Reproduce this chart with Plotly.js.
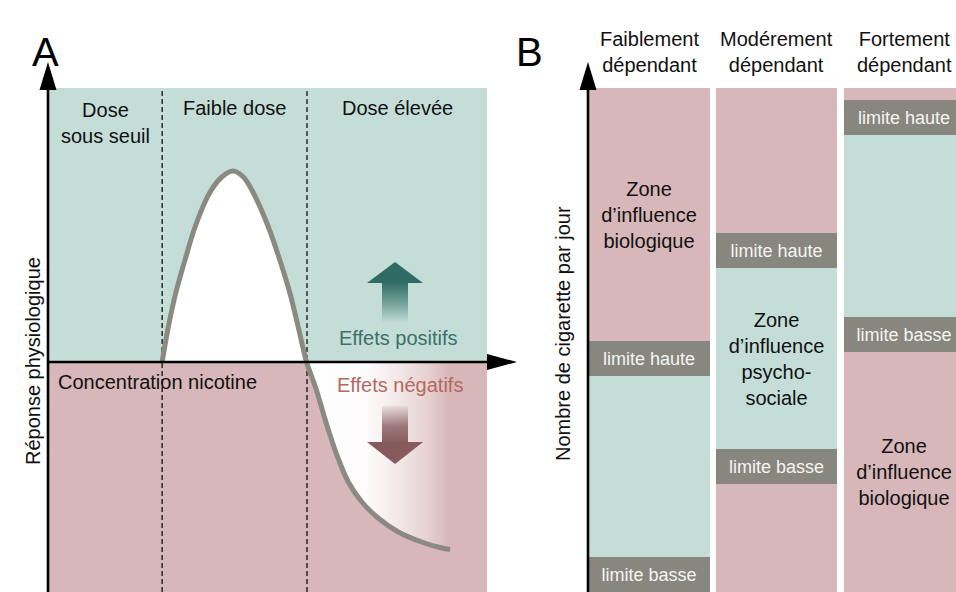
<!DOCTYPE html>
<html>
<head>
<meta charset="utf-8">
<script src="https://cdn.plot.ly/plotly-3.0.1.min.js"></script>
<style>html,body{margin:0;padding:0;background:#fff;}#chart{width:956px;height:592px;}</style>
</head>
<body>
<div id="chart"></div>
<script>
// ---------- DATA ----------
// Panel A : dose-response curve (x = nicotine concentration, y = physiological response)
const curveX = [2.60, 2.74, 2.91, 3.12, 3.35, 3.68, 3.96, 4.21, 4.45, 4.68, 5.02, 5.28, 5.51, 5.70, 5.89, 6.10, 6.33, 6.58, 6.84, 7.15, 7.52, 7.98, 8.51, 8.97, 9.16];
const curveY = [0.00, 0.35, 0.69, 1.02, 1.35, 1.69, 1.85, 1.91, 1.85, 1.69, 1.35, 1.02, 0.69, 0.35, 0.00, -0.26, -0.60, -0.93, -1.20, -1.40, -1.56, -1.70, -1.80, -1.86, -1.875];
const zoneBounds = [2.6, 5.9];
const zoneLabels = ['Dose<br>sous seuil', 'Faible dose', 'Dose élevée'];

// Panel B : stacked zones per dependence group (cigarettes / day, arbitrary units)
const groups = ['Faiblement<br>dépendant', 'Modérement<br>dépendant', 'Fortement<br>dépendant'];
const lowerBio = [0, 108, 240];
const lowLimit = [35, 35, 35];
const psychoZone = [181, 181, 182];
const highLimit = [35, 35, 35];
const upperBio = [253, 145, 12];
const lowerBioText = ['', '', 'Zone<br>d’influence<br>biologique'];
const psychoText = ['', 'Zone<br>d’influence<br>psycho-<br>sociale', ''];
const upperBioText = ['Zone<br>d’influence<br>biologique', '', ''];

// ---------- STYLE ----------
const FONT = '"Liberation Sans", Arial, Helvetica, sans-serif';
const FS = 20;
const TEAL = '#c4ded7', PINK = '#d7b7b9', GRAY = '#878780', CURVE = '#8a8a83';
const A_RANGE = [0, 10];                 // x extent of panel A background
const A_Y = [-2.30, 2.74];               // y extent of panel A background

// geometry of panel A (pixel based)
const pxA = px => (px - 48) / 43.9;
const pyA = py => (362 - py) / 100;
// geometry of panel B
const pxB = px => (px - 649) / 127.5;
const pyB = py => 592 - py;

const xs = [0, 1, 2];
const iCross = curveY.findIndex((v, i) => i > 0 && v <= 0);
const humpX = curveX.slice(0, iCross + 1), humpY = curveY.slice(0, iCross + 1);
const tailX = curveX.slice(iCross), tailY = curveY.slice(iCross);

const ac = pxA(395);
const headHW = 28 / 43.9, shaftHW = 13 / 43.9;

const traces = [
  {x: humpX, y: humpY, type: 'scatter', mode: 'none', fill: 'tozeroy', fillcolor: '#ffffff',
   line: {shape: 'spline', smoothing: 0.9}, hoverinfo: 'skip', xaxis: 'x', yaxis: 'y'},
  {x: tailX, y: tailY, type: 'scatter', mode: 'none', fill: 'tozeroy',
   fillgradient: {type: 'horizontal', start: tailX[0], stop: tailX[tailX.length - 1],
     colorscale: [[0, '#ffffff'], [0.42, '#fdfbfb'], [0.65, '#f2e7e7'], [0.85, '#e7d0d0'], [1, PINK]]},
   line: {shape: 'spline', smoothing: 0.9}, hoverinfo: 'skip', xaxis: 'x', yaxis: 'y'},
  {x: curveX, y: curveY, type: 'scatter', mode: 'lines', line: {color: CURVE, width: 5, shape: 'spline', smoothing: 0.9},
   hoverinfo: 'skip', xaxis: 'x', yaxis: 'y'},
  // up arrow
  {x: [ac - shaftHW, ac + shaftHW, ac + shaftHW, ac - shaftHW], y: [pyA(323), pyA(323), pyA(282), pyA(282)],
   type: 'scatter', mode: 'none', fill: 'toself',
   fillgradient: {type: 'vertical', start: pyA(323), stop: pyA(282),
     colorscale: [[0, 'rgba(47,107,98,0)'], [0.5, 'rgba(47,107,98,0.55)'], [1, 'rgba(47,107,98,1)']]},
   hoverinfo: 'skip', xaxis: 'x', yaxis: 'y'},
  {x: [ac - headHW, ac, ac + headHW], y: [pyA(283), pyA(262), pyA(283)], type: 'scatter', mode: 'none',
   fill: 'toself', fillcolor: '#2f6b62', hoverinfo: 'skip', xaxis: 'x', yaxis: 'y'},
  // down arrow
  {x: [ac - shaftHW, ac + shaftHW, ac + shaftHW, ac - shaftHW], y: [pyA(443), pyA(443), pyA(406), pyA(406)],
   type: 'scatter', mode: 'none', fill: 'toself',
   fillgradient: {type: 'vertical', start: pyA(443), stop: pyA(406),
     colorscale: [[0, 'rgba(135,91,94,1)'], [0.45, 'rgba(135,91,94,0.8)'], [1, 'rgba(135,91,94,0.1)']]},
   hoverinfo: 'skip', xaxis: 'x', yaxis: 'y'},
  {x: [ac - headHW, ac, ac + headHW], y: [pyA(442), pyA(464), pyA(442)], type: 'scatter', mode: 'none',
   fill: 'toself', fillcolor: '#875b5e', hoverinfo: 'skip', xaxis: 'x', yaxis: 'y'}
];

function barTrace(y, color, text, tcolor, tsize) {
  return {type: 'bar', x: xs, y: y, marker: {color: color, line: {width: 0}}, text: text,
    textposition: 'inside', insidetextanchor: 'middle', textangle: 0, constraintext: 'none',
    insidetextfont: {family: FONT, size: tsize, color: tcolor}, hoverinfo: 'skip',
    xaxis: 'x2', yaxis: 'y2', showlegend: false};
}
traces.push(barTrace(lowerBio, PINK, lowerBioText, '#111', FS));
traces.push(barTrace(lowLimit, GRAY, ['limite basse', 'limite basse', 'limite basse'], '#f5f5f2', 18));
traces.push(barTrace(psychoZone, TEAL, psychoText, '#111', FS));
traces.push(barTrace(highLimit, GRAY, ['limite haute', 'limite haute', 'limite haute'], '#f5f5f2', 18));
traces.push(barTrace(upperBio, PINK, upperBioText, '#111', FS));

const shapes = [
  {type: 'rect', xref: 'x', yref: 'y', x0: A_RANGE[0], x1: A_RANGE[1], y0: 0, y1: A_Y[1], fillcolor: TEAL, line: {width: 0}, layer: 'below'},
  {type: 'rect', xref: 'x', yref: 'y', x0: A_RANGE[0], x1: A_RANGE[1], y0: A_Y[0], y1: 0, fillcolor: PINK, line: {width: 0}, layer: 'below'},
];
zoneBounds.forEach(b => shapes.push({type: 'line', xref: 'x', yref: 'y', x0: b, x1: b, y0: A_Y[0], y1: A_Y[1],
  line: {color: '#111', width: 1.3, dash: '5px,3px'}, layer: 'below'}));
// axes of panel A
shapes.push({type: 'line', xref: 'x', yref: 'y', x0: 0, x1: 0, y0: A_Y[0], y1: pyA(88), line: {color: '#000', width: 2.6}});
shapes.push({type: 'path', xref: 'x', yref: 'y', path: `M ${-8.5/43.9},${pyA(90)} L 0,${pyA(62)} L ${8.5/43.9},${pyA(90)} Z`, fillcolor: '#000', line: {width: 0}});
shapes.push({type: 'line', xref: 'x', yref: 'y', x0: 0, x1: pxA(489), y0: 0, y1: 0, line: {color: '#000', width: 2.6}});
shapes.push({type: 'path', xref: 'x', yref: 'y', path: `M ${pxA(487)},${8/100} L ${pxA(517)},0 L ${pxA(487)},${-8/100} Z`, fillcolor: '#000', line: {width: 0}});
// axis of panel B
shapes.push({type: 'line', xref: 'x2', yref: 'y2', x0: pxB(588), x1: pxB(588), y0: 0, y1: pyB(88), line: {color: '#000', width: 2.6}});
shapes.push({type: 'path', xref: 'x2', yref: 'y2', path: `M ${pxB(579.5)},${pyB(90)} L ${pxB(588)},${pyB(62)} L ${pxB(596.5)},${pyB(90)} Z`, fillcolor: '#000', line: {width: 0}});

const zoneCenters = [(A_RANGE[0] + zoneBounds[0]) / 2, (zoneBounds[0] + zoneBounds[1]) / 2, (zoneBounds[1] + A_RANGE[1]) / 2];
const txt = (extra) => Object.assign({showarrow: false, font: {family: FONT, size: FS, color: '#111'}}, extra);
const annotations = [
  txt({xref: 'x', yref: 'y', x: zoneCenters[0], y: pyA(123), text: zoneLabels[0]}),
  txt({xref: 'x', yref: 'y', x: zoneCenters[1], y: pyA(108), text: zoneLabels[1]}),
  txt({xref: 'x', yref: 'y', x: zoneCenters[2], y: pyA(108), text: zoneLabels[2]}),
  txt({xref: 'x', yref: 'y', x: pxA(56), y: pyA(382), xanchor: 'left', text: 'Concentration nicotine'}),
  txt({xref: 'x', yref: 'y', x: pxA(398), y: pyA(338), text: 'Effets positifs', font: {family: FONT, size: FS, color: '#3a7168'}}),
  txt({xref: 'x', yref: 'y', x: pxA(400), y: pyA(385), text: 'Effets négatifs', font: {family: FONT, size: FS, color: '#b5685f'}}),
  txt({xref: 'paper', yref: 'paper', x: 20 / 956, y: 1 - 361 / 592, text: 'Réponse physiologique', textangle: -90}),
  txt({xref: 'paper', yref: 'paper', x: 563 / 956, y: 1 - 334 / 592, text: 'Nombre de cigarette par jour', textangle: -90}),
  txt({xref: 'paper', yref: 'paper', x: 30 / 956, y: 1 - 28 / 592, text: 'A', font: {family: FONT, size: 40, color: '#000'}}),
  txt({xref: 'paper', yref: 'paper', x: 529 / 956, y: 1 - 28 / 592, text: 'B', font: {family: FONT, size: 40, color: '#000'}})
];
groups.forEach((g, i) => annotations.push(txt({xref: 'x2', yref: 'y2', x: xs[i], y: pyB(52), text: g})));

const layout = {
  width: 956, height: 592, margin: {l: 0, r: 0, t: 0, b: 0},
  paper_bgcolor: '#ffffff', plot_bgcolor: 'rgba(0,0,0,0)',
  showlegend: false, barmode: 'stack', bargap: 0.051,
  xaxis: {domain: [0, 530 / 956], range: [pxA(0), pxA(530)], visible: false, fixedrange: true},
  yaxis: {domain: [0, 1], range: [pyA(592), pyA(0)], visible: false, fixedrange: true},
  xaxis2: {domain: [560 / 956, 1], range: [pxB(560), pxB(956)], visible: false, anchor: 'y2', fixedrange: true},
  yaxis2: {domain: [0, 1], range: [0, 592], visible: false, anchor: 'x2', fixedrange: true},
  shapes: shapes, annotations: annotations
};
Plotly.newPlot('chart', traces, layout, {displayModeBar: false, staticPlot: true});
</script>
</body>
</html>
